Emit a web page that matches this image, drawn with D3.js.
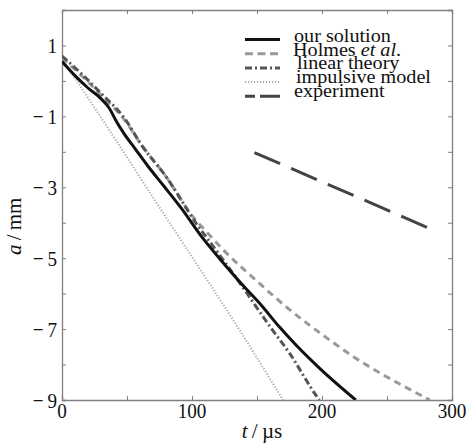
<!DOCTYPE html>
<html>
<head>
<meta charset="utf-8">
<script src="https://cdn.jsdelivr.net/npm/d3@7"></script>
<style>
  body { margin: 0; background: #fff; }
  svg text { font-family: "Liberation Serif", "DejaVu Serif", serif; fill: #111; }
</style>
</head>
<body>
<div id="chart"></div>
<script>
// data: t in microseconds, a in mm
var ourT = [0, 10, 20, 30, 36, 42, 48, 56, 66, 78, 92, 108, 121, 140, 152, 167, 180, 198, 226];
var ourA = [0.55, 0.15, -0.2, -0.5, -0.75, -1.15, -1.5, -1.9, -2.4, -2.95, -3.6, -4.42, -5.0, -5.8, -6.27, -6.93, -7.45, -8.1, -9.0];

var holmesT = [0, 15, 30, 48, 61, 80, 100, 111, 125, 150, 175, 200, 225, 250, 270, 283];
var holmesA = [0.65, 0.15, -0.4, -1.1, -1.8, -2.7, -3.8, -4.25, -4.8, -5.65, -6.45, -7.15, -7.8, -8.35, -8.75, -9.0];

var linearT = [0, 15, 30, 48, 61, 80, 104, 120, 137, 160, 175, 196, 198];
var linearA = [0.7, 0.2, -0.35, -1.05, -1.8, -2.7, -4.06, -4.85, -5.71, -6.93, -7.68, -8.9, -9.0];

var impulsiveT = [0, 15, 33, 80, 137, 170];
var impulsiveA = [0.6, -0.2, -1.2, -3.85, -7.05, -9.0];

var expT = [148, 284];
var expA = [-2.02, -4.18];

var xTicks = [0, 50, 100, 150, 200, 250, 300];
var xLabels = [0, 100, 200, 300];
var yTicks = [2, 1, 0, -1, -2, -3, -4, -5, -6, -7, -8, -9];
var yLabels = [1, -1, -3, -5, -7, -9];

var legendNames = ['our solution', 'Holmes', 'linear theory', 'impulsive model', 'experiment'];

function buildChart(containerId) {
    var width = 468;
    var height = 443;
    var margin = { top: 10, right: 16, bottom: 43, left: 62 };
    var innerWidth = width - margin.left - margin.right;
    var innerHeight = height - margin.top - margin.bottom;

    var svg = d3.select(containerId)
        .append('svg')
        .attr('width', width)
        .attr('height', height);

    var g = svg.append('g')
        .attr('transform', 'translate(' + margin.left + ',' + margin.top + ')');

    var x = d3.scaleLinear().domain([0, 300]).range([0, innerWidth]);
    var y = d3.scaleLinear().domain([-9, 2]).range([innerHeight, 0]);

    var axisColor = '#808080';

    // clip so curves stop at the frame
    g.append('clipPath').attr('id', 'clip')
        .append('rect')
        .attr('width', innerWidth)
        .attr('height', innerHeight);

    // ticks inward on all four sides
    var tickLen = 4;
    var axes = [
        d3.axisBottom(x).tickValues(xTicks).tickSize(-tickLen).tickFormat(''),
        d3.axisTop(x).tickValues(xTicks).tickSize(-tickLen).tickFormat(''),
        d3.axisLeft(y).tickValues(yTicks).tickSize(-tickLen).tickFormat(''),
        d3.axisRight(y).tickValues(yTicks).tickSize(-tickLen).tickFormat('')
    ];
    var shifts = ['0,' + innerHeight, '0,0', '0,0', innerWidth + ',0'];
    axes.forEach(function (ax, i) {
        var a = g.append('g')
            .attr('transform', 'translate(' + shifts[i] + ')')
            .call(ax);
        a.select('.domain').attr('stroke', axisColor).attr('stroke-width', 1.3);
        a.selectAll('.tick line').attr('stroke', axisColor).attr('stroke-width', 1);
    });

    // stretch or squeeze a text to a share of its natural width
    function fit(factor) {
        return function (sel) {
            sel.each(function () {
                var w = this.getComputedTextLength();
                d3.select(this)
                    .attr('textLength', w * factor)
                    .attr('lengthAdjust', 'spacingAndGlyphs');
            });
        };
    }

    g.selectAll('.xlab')
        .data(xLabels)
        .enter()
        .append('text')
        .attr('class', 'xlab')
        .attr('x', function (d) { return x(d); })
        .attr('y', innerHeight + 18)
        .attr('text-anchor', 'middle')
        .style('font-size', '22px')
        .text(function (d) { return d; })
        .call(fit(0.87));

    g.selectAll('.ylab')
        .data(yLabels)
        .enter()
        .append('text')
        .attr('class', 'ylab')
        .attr('x', -5)
        .attr('y', function (d) { return y(d) + 7.5; })
        .attr('text-anchor', 'end')
        .style('font-size', '22px')
        .text(function (d) { return d < 0 ? '\u2212\u2009' + Math.abs(d) : d; })
        .call(fit(0.87));

    // axis titles
    var xt = g.append('text')
        .attr('x', innerWidth / 2 + 5)
        .attr('y', innerHeight + 38)
        .attr('text-anchor', 'middle')
        .style('font-size', '21px');
    xt.append('tspan').style('font-style', 'italic').text('t');
    xt.append('tspan').text('\u2009/\u2009\u00b5s');

    var yt = g.append('text')
        .attr('transform', 'translate(' + (-41) + ',' + (y(-4.1)) + ') rotate(-90)')
        .attr('text-anchor', 'middle')
        .style('font-size', '21px');
    yt.append('tspan').style('font-style', 'italic').text('a');
    yt.append('tspan').text('\u2009/\u2009mm');

    var line = d3.line()
        .x(function (d) { return x(d[0]); })
        .y(function (d) { return y(d[1]); })
        .curve(d3.curveMonotoneX);

    function zip(ts, as) {
        return ts.map(function (t, i) { return [t, as[i]]; });
    }

    var styles = [
        { data: zip(ourT, ourA), color: '#111', w: 3, dash: null, key: null },
        { data: zip(holmesT, holmesA), color: '#9a9a9a', w: 3, dash: '7,5', key: '8,4.5' },
        { data: zip(linearT, linearA), color: '#555', w: 3, dash: '7,3,2,3', key: '7,3,2,3' },
        { data: zip(impulsiveT, impulsiveA), color: '#a8a8a8', w: 2, dash: '1.2,1.8', key: '1.2,1.8' },
        { data: zip(expT, expA), color: '#444', w: 3, dash: '28,12', key: '10,5,20,100' }
    ];

    var plot = g.append('g').attr('clip-path', 'url(#clip)');

    // draw back to front so the solid line sits on top
    [3, 4, 1, 2, 0].forEach(function (i) {
        var s = styles[i];
        plot.append('path')
            .datum(s.data)
            .attr('d', line)
            .attr('fill', 'none')
            .attr('stroke', s.color)
            .attr('stroke-width', s.w)
            .attr('stroke-dasharray', s.dash);
    });

    // legend
    var legend = g.append('g')
        .attr('transform', 'translate(' + (245 - margin.left) + ',' + (39.5 - margin.top) + ')');
    var rowH = 14.2;
    var textDx = [49, 48, 52, 51, 49];

    styles.forEach(function (s, i) {
        var row = legend.append('g').attr('transform', 'translate(0,' + (i * rowH) + ')');
        row.append('line')
            .attr('x1', 0).attr('x2', 35)
            .attr('stroke', s.color)
            .attr('stroke-width', s.w)
            .attr('stroke-dasharray', s.key);
        var txt = row.append('text')
            .attr('x', textDx[i])
            .attr('y', 2.5 - i * 0.5)
            .style('font-size', '18px');
        txt.append('tspan').text(legendNames[i]);
        if (i === 1) {
            txt.append('tspan').text(' ');
            txt.append('tspan').style('font-style', 'italic').text('et al');
            txt.append('tspan').text('.');
        }
        txt.call(fit(1.12));
    });
}

buildChart('#chart');
</script>
</body>
</html>
